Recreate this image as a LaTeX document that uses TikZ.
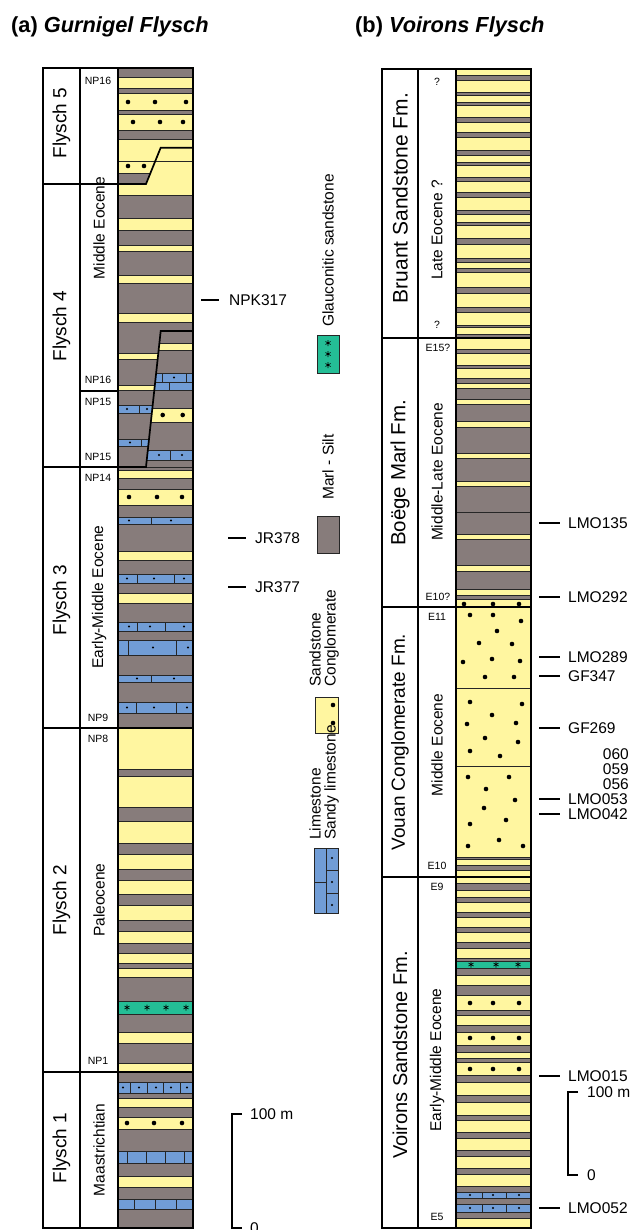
\documentclass[tikz,border=0pt]{standalone}
\usepackage{fontspec}
\setmainfont{Liberation Sans}
\definecolor{marl}{RGB}{135,124,123}
\definecolor{sand}{RGB}{255,246,160}
\definecolor{lime}{RGB}{113,157,214}
\definecolor{glau}{RGB}{36,190,150}
\tikzset{
 lay/.style={draw=black!85,line width=0.7pt},
 heavy/.style={draw=black,line width=1.7pt},
 tick/.style={draw=black,line width=1.2pt},
 txt/.style={inner sep=0pt},
 titl/.style={txt,anchor=base west,font=\fontsize{21.8}{21.8}\selectfont\bfseries},
 fly/.style={txt,rotate=90,font=\fontsize{19}{19}\selectfont},
 fm/.style={txt,rotate=90,font=\fontsize{20}{20}\selectfont},
 age/.style={txt,rotate=90,font=\fontsize{15.5}{15.5}\selectfont},
 np/.style={txt,font=\fontsize{10.5}{10.5}\selectfont},
 smp/.style={txt,anchor=west,font=\fontsize{15.5}{15.5}\selectfont},
 leg/.style={txt,rotate=90,anchor=west,align=left,font=\fontsize{15.5}{15}\selectfont}
}
\newcommand\CDots[2]{\foreach \xx in {#2} \fill (\xx,#1) circle (2.3);}
\newcommand\SDots[2]{\foreach \xx in {#2} \fill (\xx,#1) circle (1.1);}
\newcommand\Divs[3]{\foreach \xx in {#3} \draw[lay] (\xx,#1) -- (\xx,#2);}
\newcommand\Ast[2]{\draw[line width=0.6pt,shift={(#1,#2)}] (0,-3) -- (0,3) (-2.6,-1.5) -- (2.6,1.5) (-2.6,1.5) -- (2.6,-1.5);}
\begin{document}
\begin{tikzpicture}[x=1pt,y=-1pt]
\useasboundingbox (0,0) rectangle (632,1230);
\fill[white] (0,0) rectangle (632,1230);
% ---------- titles
\node[titl] (ta) at (11,33) {(a) \textit{Gurnigel Flysch}};
\node[titl] (tb) at (355,33) {(b) \textit{Voirons Flysch}};
% ---------- column (a) layers
\foreach \ya/\yb/\c in {68/77/marl,77/88/sand,88/93/marl,93/110/sand,110/114/marl,114/130/sand,130/139/marl,
139/161/sand,161/173/sand,173/184/marl,184/195/sand,
195/218/marl,218/230/sand,230/245/marl,245/251/sand,251/275/marl,275/283/sand,283/313/marl,313/322/sand,
322/353/marl,353/359/sand,359/385/marl,385/390/sand,390/405/marl,405/413/lime,413/439/marl,439/446/lime,446/467/marl,
467/470/marl,470/478/sand,478/489/marl,489/505/sand,505/517/marl,517/524/lime,524/551/marl,551/560/sand,560/574/marl,574/583/lime,583/593/marl,593/603/sand,603/622/marl,622/631/lime,631/640/marl,640/655/lime,655/675/marl,675/682/lime,682/702/marl,702/713/lime,713/728/marl,
728/769/sand,769/776/marl,776/807/sand,807/821/marl,821/843/sand,843/854/marl,854/869/sand,869/880/marl,880/894/sand,894/905/marl,905/920/sand,920/931/marl,931/943/sand,943/953/marl,953/963/sand,963/968/marl,968/977/sand,977/1001/marl,1001/1014/glau,1014/1032/marl,1032/1043/sand,1043/1063/marl,1063/1072/sand,
1072/1082/marl,1082/1093/lime,1093/1098/marl,1098/1107/sand,1107/1117/marl,1117/1129/sand,1129/1151/marl,1151/1163/lime,1163/1176/marl,1176/1187/sand,1187/1199/marl,1199/1209/lime,1209/1228/marl}
 \filldraw[lay,fill=\c] (118,\ya) rectangle (193,\yb);
% thrust blocks (right of oblique contacts)
\begin{scope}
\clip (160.7,147.7) -- (193,147.7) -- (193,194) -- (146,194) -- (146,184) -- cycle;
\filldraw[lay,fill=sand] (140,147.7) rectangle (193,161);
\filldraw[lay,fill=sand] (140,161) rectangle (193,195);
\end{scope}
\begin{scope}
\clip (160.7,331) -- (193,331) -- (193,467) -- (146,467) -- cycle;
\foreach \ya/\yb/\c in {331/343/marl,343/350/sand,350/373/marl,373/382/lime,382/390/lime,390/408/marl,408/422/sand,422/450/marl,450/460/lime,460/467/marl}
 \filldraw[lay,fill=\c] (140,\ya) rectangle (193,\yb);
\Divs{373}{382}{162.7,186.7}
\Divs{382}{390}{169}
\Divs{450}{460}{170}
\end{scope}
% dividers (a)
\Divs{405}{413}{139}
\Divs{439}{446}{141}
\Divs{517}{524}{151}
\Divs{574}{583}{137,174}
\Divs{622}{631}{137,165}
\Divs{640}{655}{128,176}
\Divs{675}{682}{151}
\Divs{702}{713}{136,176}
\Divs{1082}{1093}{130,147,163,180}
\Divs{1151}{1163}{127,146,165,184}
\Divs{1199}{1209}{134,155,176}
% dots (a)
\CDots{102}{128,155,186}
\CDots{122}{133,160,183}
\CDots{166}{128,144}
\CDots{415}{162.7,182.7}
\CDots{497}{129,157,182}
\CDots{1123}{127,154,182}
\SDots{377.5}{174}
\SDots{409}{127,147}
\SDots{442.5}{130}
\SDots{455}{159,182}
\SDots{520.5}{129,171}
\SDots{578.5}{127,154,184}
\SDots{626.5}{129,150,184}
\SDots{647.5}{153,188}
\SDots{678.5}{137,174}
\SDots{707.5}{127,154,187}
\SDots{1087.5}{123,139,156,171,187}
\foreach \xx in {127,147,166,186} {\Ast{\xx}{1007.5}}
% frame (a)
\draw[heavy] (43,68) rectangle (193,1228);
\draw[heavy] (80,68) -- (80,1228) (118,68) -- (118,1228);
\draw[heavy] (43,184) -- (146,184) -- (160.7,147.7) -- (193,147.7);
\draw[heavy] (43,467) -- (146,467) -- (160.7,331) -- (193,331);
\draw[heavy] (43,728) -- (193,728) (43,1072) -- (193,1072);
\draw[heavy] (80,391) -- (118,391);
% labels (a)
\node[fly] (f5) at (61.5,123) {Flysch 5};
\node[fly] (f4) at (61.5,326) {Flysch 4};
\node[fly] (f3) at (61.5,600) {Flysch 3};
\node[fly] (f2) at (61.5,900) {Flysch 2};
\node[fly] (f1) at (61.5,1148) {Flysch 1};
\node[age] (aa1) at (99,228) {Middle Eocene};
\node[age] (aa2) at (99,597) {Early-Middle Eocene};
\node[age] (aa3) at (99,900) {Paleocene};
\node[age] (aa4) at (99,1150) {Maastrichtian};
\node[np] (n1) at (98,81) {NP16};
\node[np] (n2) at (98,380) {NP16};
\node[np] (n3) at (98,402) {NP15};
\node[np] (n4) at (98,457) {NP15};
\node[np] (n5) at (98,478) {NP14};
\node[np] (n6) at (98,718) {NP9};
\node[np] (n7) at (98,739) {NP8};
\node[np] (n8) at (98,1061) {NP1};
\node[smp] (s1) at (229,300) {NPK317};
\node[smp] (s2) at (255,538) {JR378};
\node[smp] (s3) at (255,587) {JR377};
\coordinate (c1) at (201,300); \draw[tick] (c1) -- ++(18,0);
\coordinate (c2) at (228,538); \draw[tick] (c2) -- ++(18,0);
\coordinate (c3) at (228,587); \draw[tick] (c3) -- ++(18,0);
% scale (a)
\draw[tick] (242,1114) -- (232,1114) -- (232,1228) -- (242,1228);
\node[smp] (sc1) at (250,1114) {100 m};
\node[smp] (sc0) at (250,1228) {0};
% ---------- legend
\node[leg] (lg1) at (328,327) {Glauconitic sandstone};
\filldraw[lay,fill=glau] (317,335) rectangle (339,373);
\foreach \yy in {343,354,365} {\Ast{328}{\yy}}
\node[leg] (lg2) at (328,500) {Marl - Silt};
\filldraw[lay,fill=marl] (317,516) rectangle (339,553);
\node[leg] (lg3) at (324,687) {Sandstone\\Conglomerate};
\filldraw[lay,fill=sand] (315,697) rectangle (338,733);
\CDots{705}{333}
\CDots{723}{333}
\node[leg] (lg4) at (324,840) {Limestone\\Sandy limestone};
\filldraw[lay,fill=lime] (314,848) rectangle (338,913);
\draw[lay] (326,848) -- (326,913) (314,882) -- (326,882) (326,870) -- (338,870) (326,893) -- (338,893);
\SDots{858}{332}
\SDots{882}{332}
\SDots{905}{332}
% ---------- column (b) layers
\foreach \ya/\yb/\c in {69/75/sand,75/80/marl,80/92/sand,92/95/marl,95/102/sand,102/105/marl,105/117/sand,117/122/marl,122/132/sand,132/137/marl,137/150/sand,150/155/marl,155/162/sand,162/165/marl,165/177/sand,177/181/marl,181/192/sand,192/197/marl,197/210/sand,210/214/marl,214/222/sand,222/225/marl,225/238/sand,238/244/marl,244/258/sand,258/262/marl,262/268/sand,268/272/marl,272/287/sand,287/293/marl,293/307/sand,307/312/marl,312/325/sand,325/327/marl,327/334/sand,334/338/marl,
338/349/sand,349/353/marl,353/365/sand,365/368/marl,368/378/sand,378/383/marl,383/388/sand,388/399/marl,399/404/sand,404/421/marl,421/427/sand,427/453/marl,453/458/sand,458/481/marl,481/486/sand,486/512/marl,512/534/marl,534/539/sand,539/565/marl,565/571/sand,571/589/marl,589/595/sand,595/599/marl,599/607/sand,
607/688/sand,688/766/sand,766/857/sand,857/859/marl,859/865/sand,865/870/marl,870/877/sand,
877/883/sand,883/890/marl,890/897/sand,897/902/marl,902/912/sand,912/917/marl,917/927/sand,927/932/marl,932/942/sand,942/948/marl,948/958/sand,958/961/marl,961/968/glau,968/975/marl,975/985/sand,985/995/marl,995/1010/sand,1010/1015/marl,1015/1025/sand,1025/1032/marl,1032/1045/sand,1045/1052/marl,1052/1058/sand,1058/1062/marl,1062/1075/sand,1075/1082/marl,1082/1095/sand,1095/1102/marl,1102/1115/sand,1115/1120/marl,1120/1132/sand,1132/1138/marl,1138/1150/sand,1150/1156/marl,1156/1168/sand,1168/1174/marl,1174/1186/sand,1186/1192/marl,1192/1198/lime,1198/1204/marl,1204/1212/lime,1212/1218/marl,1218/1228/sand}
 \filldraw[lay,fill=\c] (456,\ya) rectangle (531,\yb);
\CDots{604}{464,493,519}
\foreach \xx/\yy in {470/615,493/615,521/621,497/631,479/643,512/644,463/662,492/659,520/661,485/677,514/677,
470/702,522/704,492/715,467/724,516/723,485/738,518/742,470/751,500/756,
468/777,509/777,486/789,515/800,484/808,506/820,470/824,499/840,468/846,523/846}
 \fill (\xx,\yy) circle (2.3);
\foreach \xx in {471,496,518} {\Ast{\xx}{964.5}}
\CDots{1003}{470,493,519}
\CDots{1038}{470,493,519}
\CDots{1069}{470,493,519}
\SDots{1195}{470,493,519}
\SDots{1208}{470,493,519}
\Divs{1192}{1198}{482,506}
\Divs{1204}{1212}{482,506}
% frame (b)
\draw[heavy] (382,69) rectangle (531,1228);
\draw[heavy] (418,69) -- (418,1228) (456,69) -- (456,1228);
\draw[heavy] (382,338) -- (531,338) (382,607) -- (531,607) (382,877) -- (531,877);
% labels (b)
\node[fm,font=\fontsize{21}{21}\selectfont] (b1) at (400,198) {Bruant Sandstone Fm.};
\node[fm,font=\fontsize{20.5}{20.5}\selectfont] (b2) at (400,473) {Boëge Marl Fm.};
\node[fm,font=\fontsize{19}{19}\selectfont] (b3) at (400,742) {Vouan Conglomerate Fm.};
\node[fm] (b4) at (400,1055) {Voirons Sandstone Fm.};
\node[age] (ab1) at (437,230) {Late Eocene ?};
\node[age] (ab2) at (437,472) {Middle-Late Eocene};
\node[age] (ab3) at (437,745) {Middle Eocene};
\node[age] (ab4) at (437,1060) {Early-Middle Eocene};
\node[np] (e1) at (437,82) {?};
\node[np] (e2) at (437,325) {?};
\node[np] (e3) at (438,348) {E15?};
\node[np] (e4) at (438,597) {E10?};
\node[np] (e5) at (437,617) {E11};
\node[np] (e6) at (437,866) {E10};
\node[np] (e7) at (437,887) {E9};
\node[np] (e8) at (437,1217) {E5};
\foreach \nm/\yy in {LMO135/523,LMO292/597,LMO289/657,GF347/676,GF269/728,LMO053/799,LMO042/814,LMO015/1076,LMO052/1208}
 {\node[smp] (l\nm) at (568,\yy) {\nm}; \coordinate (k\nm) at (539,\yy); \draw[tick] (k\nm) -- ++(21,0);}
\node[smp,anchor=east] (m060) at (629,754) {060};
\node[smp,anchor=east] (m059) at (629,769) {059};
\node[smp,anchor=east] (m056) at (629,784) {056};
% scale (b)
\draw[tick] (578,1092) -- (568,1092) -- (568,1175) -- (578,1175);
\node[smp] (sb1) at (587,1092) {100 m};
\node[smp] (sb0) at (587,1175) {0};
\end{tikzpicture}
\end{document}
